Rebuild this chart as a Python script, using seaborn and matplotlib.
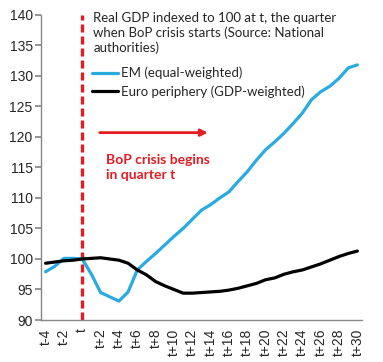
import numpy as np
import pandas as pd
import matplotlib
matplotlib.use("Agg")
import matplotlib.pyplot as plt
import seaborn as sns

quarters = ["t-4", "t-3", "t-2", "t-1", "t"] + [f"t+{i}" for i in range(1, 31)]
em = [97.9, 98.8, 100.1, 100.1, 100.0, 97.5, 94.5, 93.8, 93.1, 94.6,
      98.2, 99.6, 100.9, 102.3, 103.7, 105.0, 106.5, 108.0, 108.9, 110.0,
      111.0, 112.7, 114.3, 116.2, 117.9, 119.2, 120.6, 122.2, 123.9, 126.1,
      127.4, 128.3, 129.6, 131.3, 131.8]
euro = [99.3, 99.5, 99.7, 99.8, 100.0, 100.1, 100.2, 100.0, 99.8, 99.3,
        98.2, 97.4, 96.3, 95.6, 95.0, 94.4, 94.4, 94.5, 94.6, 94.7,
        94.9, 95.2, 95.6, 96.0, 96.6, 96.9, 97.5, 97.9, 98.2, 98.7,
        99.2, 99.8, 100.4, 100.9, 101.3]

df = pd.DataFrame({"pos": np.arange(len(quarters)), "EM (equal-weighted)": em,
                   "Euro periphery (GDP-weighted)": euro})

sns.set_theme(style="white")
plt.rcParams["font.family"] = ["Liberation Sans", "DejaVu Sans"]

fig = plt.figure(figsize=(3.83, 3.62), dpi=100)
ax = fig.add_axes([0.107, 0.116, 0.838, 0.843])

sns.lineplot(data=df, x="pos", y="EM (equal-weighted)", ax=ax, color="#29abe2",
             linewidth=2.3, label="EM (equal-weighted)")
sns.lineplot(data=df, x="pos", y="Euro periphery (GDP-weighted)", ax=ax, color="black",
             linewidth=2.3, label="Euro periphery (GDP-weighted)")

ax.axvline(quarters.index("t"), color="#e31b23", linestyle=(0, (2.4, 1.2)), linewidth=2.4, zorder=1)

ax.set_xlim(-0.5, len(quarters) - 0.5)
ax.set_ylim(90, 140)
ax.set_yticks(range(90, 141, 5))
ax.set_xticks(range(0, len(quarters), 2))
ax.set_xticklabels(quarters[::2], rotation=90)
ax.set_xticks(np.arange(-0.5, len(quarters), 1), minor=True)
ax.tick_params(axis="x", which="major", length=0, labelsize=10, pad=6)
ax.tick_params(axis="x", which="minor", length=4, color="#888888", direction="out")
ax.tick_params(axis="y", length=4, color="#888888", labelsize=10, direction="out", left=True, pad=2)
ax.set_xlabel("")
ax.set_ylabel("")
for s in ["top", "right"]:
    ax.spines[s].set_visible(False)
for s in ["left", "bottom"]:
    ax.spines[s].set_color("#888888")
    ax.spines[s].set_linewidth(1)

ax.text(5.2, 140.5, "Real GDP indexed to 100 at t, the quarter\nwhen BoP crisis starts (Source: National\nauthorities)",
        fontsize=9.5, family=["Lato", "DejaVu Sans"], va="top", ha="left", linespacing=1.25)
leg = ax.legend(loc="upper left", bbox_to_anchor=(0.159, 0.83), frameon=False, fontsize=9.5,
                handlelength=2.0, handletextpad=0.2, labelspacing=0.45, borderaxespad=0, borderpad=0)
for t in leg.get_texts():
    t.set_family(["Lato", "DejaVu Sans"])

ax.annotate("", xy=(18.0, 120.7), xytext=(5.6, 120.7),
            arrowprops=dict(arrowstyle="-|>", color="#e31b23", lw=2, mutation_scale=10))
ax.text(6.6, 117.2, "BoP crisis begins\nin quarter t", color="#e31b23", fontsize=10,
        fontweight="bold", family=["Lato", "DejaVu Sans"], va="top", ha="left", linespacing=1.3)

fig.savefig("out.png", dpi=100)
